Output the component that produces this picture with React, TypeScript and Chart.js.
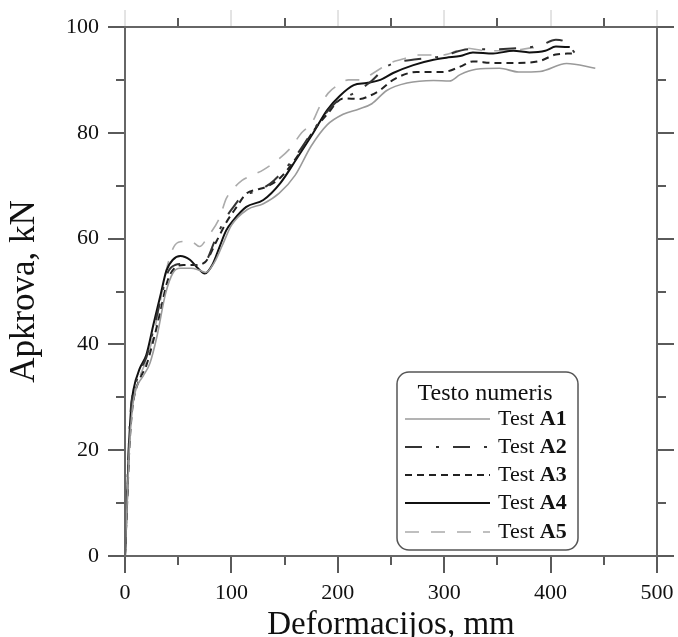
import React, { useEffect, useRef } from "react";
import { Chart, registerables } from "chart.js";

Chart.register(...registerables);

const SERIF = '"Liberation Serif", "Times New Roman", serif';

const xTicks = [0, 100, 200, 300, 400, 500];
const yTicks = [0, 20, 40, 60, 80, 100];
const xTitle = "Deformacijos, mm";
const yTitle = "Apkrova, kN";
const legendTitle = "Testo numeris";
const testNames = ["A1", "A2", "A3", "A4", "A5"];

const a1x = [0, 2, 4, 6, 8, 11, 17, 23.5, 30, 38, 45, 52, 62, 70, 76, 84, 91, 100, 115, 130, 145, 160, 175, 190, 205, 220, 232, 246, 265, 290, 305, 315, 330, 352, 370, 390, 415, 442];
const a1y = [0, 10, 20, 26, 29.5, 32, 34, 36.5, 41.5, 49.5, 53.5, 54.4, 54.4, 54, 53.6, 55.5, 58.5, 62.5, 65.5, 66.6, 68.6, 72, 77.5, 81.5, 83.5, 84.5, 85.5, 88, 89.4, 89.9, 89.8, 91, 92, 92.2, 91.5, 91.6, 93.1, 92.2];

const a2x = [0, 2, 4, 6, 8, 14, 20, 27, 33, 40, 47, 55, 65, 75, 86, 95, 102, 110, 125, 140, 160, 177, 190, 200, 215, 230, 246, 255, 274, 296, 324, 345, 370, 390, 405, 415, 423];
const a2y = [0, 12, 23, 29, 31, 35, 37.5, 43, 48, 53.5, 55, 55.2, 55, 55.5, 60.4, 64, 66, 68, 69, 71, 75.5, 80.5, 84, 86, 87.5, 89.5, 92.5, 93.3, 93.9, 94.4, 95.8, 95.8, 96, 96.5, 97.6, 97, 95];

const a3x = [0, 2, 4, 6, 8, 14, 20, 27, 33, 40, 47, 55, 65, 75, 86, 95, 105, 114, 125, 133, 146, 160, 177, 190, 205, 221, 230, 240, 252, 274, 299, 315, 327, 346, 365, 390, 405, 420];
const a3y = [0, 10, 20, 26, 29.5, 33.5, 36, 41, 46, 52, 54.5, 55, 55, 55.5, 59.5, 63, 66, 68.5, 69.3, 69.8, 71.5, 75, 80.3, 83.5, 86.5, 86.4, 87, 88.1, 90, 91.5, 91.5, 92.5, 93.5, 93.2, 93.2, 93.6, 94.8, 95];

const a4x = [0, 2, 4, 6, 8, 14, 20, 27, 33, 39, 45, 52, 61, 68, 75, 82, 89, 95, 102, 114, 130, 146, 161, 177, 190, 202, 215, 227, 240, 252, 271, 290, 302, 315, 327, 346, 365, 380, 395, 405, 418];
const a4y = [0, 11, 22, 28.5, 31.5, 35.5, 38, 44, 49, 54, 56, 56.7, 56, 54.5, 53.4, 55, 58.5, 61.5, 63.5, 66, 67.3, 70.5, 75, 80, 84.3, 87, 89, 89.4, 90, 91.3, 92.8, 93.8, 94.2, 94.5, 95.2, 95, 95.5, 95.2, 95.5, 96.3, 96.2];

const a5x = [0, 2, 4, 6, 8, 14, 20, 27, 33, 40, 46, 52, 62, 70, 78, 89, 95, 100, 110, 120, 130, 141, 155, 166, 176, 183, 191, 200, 210, 221, 235, 249, 262, 274, 299, 321, 340, 360, 380, 392];
const a5y = [0, 11, 21, 27, 30, 34, 37, 42, 48, 55, 58.5, 59.4, 59.5, 58.5, 60.4, 64, 67.5, 69, 71, 72, 73, 74.5, 77, 80, 82, 85, 87.5, 89, 90, 90, 91.5, 93.2, 94, 94.7, 94.7, 96, 95.5, 95.5, 96, 96.3];

const seriesX = [a1x, a2x, a3x, a4x, a5x];
const seriesY = [a1y, a2y, a3y, a4y, a5y];

const styles = [
  { color: "#9a9a9a", width: 1.6, dash: [] as number[] },
  { color: "#333333", width: 2, dash: [17, 14, 3, 14] },
  { color: "#222222", width: 2, dash: [7, 5] },
  { color: "#111111", width: 2, dash: [] as number[] },
  { color: "#ababab", width: 1.6, dash: [14, 12] },
];

const framePlugin = {
  id: "framePlugin",
  afterDatasetsDraw(chart: any) {
    const { ctx, chartArea } = chart;
    const { left, right, top, bottom } = chartArea;
    const xs = chart.scales.x;
    const ys = chart.scales.y;
    const line = (x1: number, y1: number, x2: number, y2: number, color: string, w: number) => {
      ctx.beginPath();
      ctx.strokeStyle = color;
      ctx.lineWidth = w;
      ctx.moveTo(x1, y1);
      ctx.lineTo(x2, y2);
      ctx.stroke();
    };
    ctx.save();
    ctx.setLineDash([]);
    ctx.lineCap = "butt";
    for (let v = 0; v <= 500; v += 50) {
      const px = Math.round(xs.getPixelForValue(v));
      const major = v % 100 === 0;
      const len = major ? 17 : 9;
      line(px, bottom, px, bottom + len, "#5a5a5a", 2);
      if (major) line(px, top, px, top - len, "#c8c8c8", 1);
      else line(px, top, px, top - len, "#5a5a5a", 2);
    }
    for (let v = 0; v <= 100; v += 10) {
      const py = Math.round(ys.getPixelForValue(v));
      const major = v % 20 === 0;
      const len = major ? 17 : 9;
      line(left - len, py, left, py, "#5a5a5a", 2);
      line(right, py, right + len, py, "#5a5a5a", 2);
    }
    ctx.strokeStyle = "#666";
    ctx.lineWidth = 2;
    ctx.strokeRect(left, top, right - left, bottom - top);
    ctx.restore();
  },
  afterDraw(chart: any) {
    const { ctx } = chart;
    const bx = 397, by = 372, bw = 181, bh = 178, r = 12;
    ctx.save();
    ctx.setLineDash([]);
    ctx.beginPath();
    ctx.moveTo(bx + r, by);
    ctx.arcTo(bx + bw, by, bx + bw, by + bh, r);
    ctx.arcTo(bx + bw, by + bh, bx, by + bh, r);
    ctx.arcTo(bx, by + bh, bx, by, r);
    ctx.arcTo(bx, by, bx + bw, by, r);
    ctx.closePath();
    ctx.fillStyle = "#fff";
    ctx.fill();
    ctx.strokeStyle = "#555";
    ctx.lineWidth = 1.5;
    ctx.stroke();

    ctx.fillStyle = "#111";
    ctx.textBaseline = "middle";
    ctx.textAlign = "center";
    ctx.font = `24px ${SERIF}`;
    ctx.fillText(legendTitle, 485, 394);

    const rowsY = [419, 447, 475, 503, 532];
    ctx.textAlign = "left";
    testNames.forEach((name, i) => {
      const st = styles[i];
      ctx.beginPath();
      ctx.setLineDash(st.dash);
      ctx.strokeStyle = st.color;
      ctx.lineWidth = st.width;
      ctx.moveTo(405, rowsY[i]);
      ctx.lineTo(490, rowsY[i]);
      ctx.stroke();
      ctx.setLineDash([]);
      ctx.font = `22px ${SERIF}`;
      ctx.fillStyle = "#111";
      const t = "Test ";
      ctx.fillText(t, 498, rowsY[i]);
      const w = ctx.measureText(t).width;
      ctx.font = `bold 22px ${SERIF}`;
      ctx.fillText(name, 498 + w, rowsY[i]);
    });
    ctx.restore();
  },
};

export default function App() {
  const ref = useRef<HTMLCanvasElement | null>(null);
  useEffect(() => {
    if (!ref.current) return;
    const datasets = seriesX.map((xsArr, i) => ({
      label: "Test " + testNames[i],
      data: xsArr.map((x, j) => ({ x, y: seriesY[i][j] })),
      borderColor: styles[i].color,
      borderWidth: styles[i].width,
      borderDash: styles[i].dash,
      pointRadius: 0,
      fill: false,
      cubicInterpolationMode: "monotone" as const,
    }));
    const chart = new Chart(ref.current, {
      type: "line",
      data: { datasets },
      plugins: [framePlugin],
      options: {
        responsive: false,
        animation: false,
        devicePixelRatio: 1,
        layout: { padding: { left: 0, right: 21, top: 27, bottom: 0 } },
        plugins: { legend: { display: false }, tooltip: { enabled: false } },
        scales: {
          x: {
            type: "linear",
            min: 0,
            max: 500,
            afterFit: (s: any) => { s.height = 81; s.paddingLeft = 0; s.paddingRight = 0; },
            afterBuildTicks: (s: any) => { s.ticks = xTicks.map((v) => ({ value: v })); },
            grid: { display: false, drawTicks: false, tickLength: 0 },
            border: { display: false },
            ticks: { color: "#111", padding: 24, autoSkip: false, maxRotation: 0, font: { family: SERIF, size: 22 } },
            title: { display: true, text: xTitle, color: "#111", padding: { top: 0, bottom: 0 }, font: { family: SERIF, size: 33, lineHeight: 0.7 } },
          },
          y: {
            type: "linear",
            min: 0,
            max: 100,
            afterFit: (s: any) => { s.width = 125; s.paddingTop = 0; s.paddingBottom = 0; },
            afterBuildTicks: (s: any) => { s.ticks = yTicks.map((v) => ({ value: v })); },
            grid: { display: false, drawTicks: false, tickLength: 0 },
            border: { display: false },
            ticks: { color: "#111", padding: 26, autoSkip: false, font: { family: SERIF, size: 22 } },
            title: { display: true, text: yTitle, color: "#111", padding: { top: 7, bottom: 0 }, font: { family: SERIF, size: 35, lineHeight: 1.0 } },
          },
        },
      },
    });
    return () => chart.destroy();
  }, []);
  return (
    <div style={{ position: "fixed", left: 0, top: 0, width: 678, height: 637, background: "#fff" }}>
      <canvas ref={ref} width={678} height={637} style={{ display: "block" }} />
    </div>
  );
}
